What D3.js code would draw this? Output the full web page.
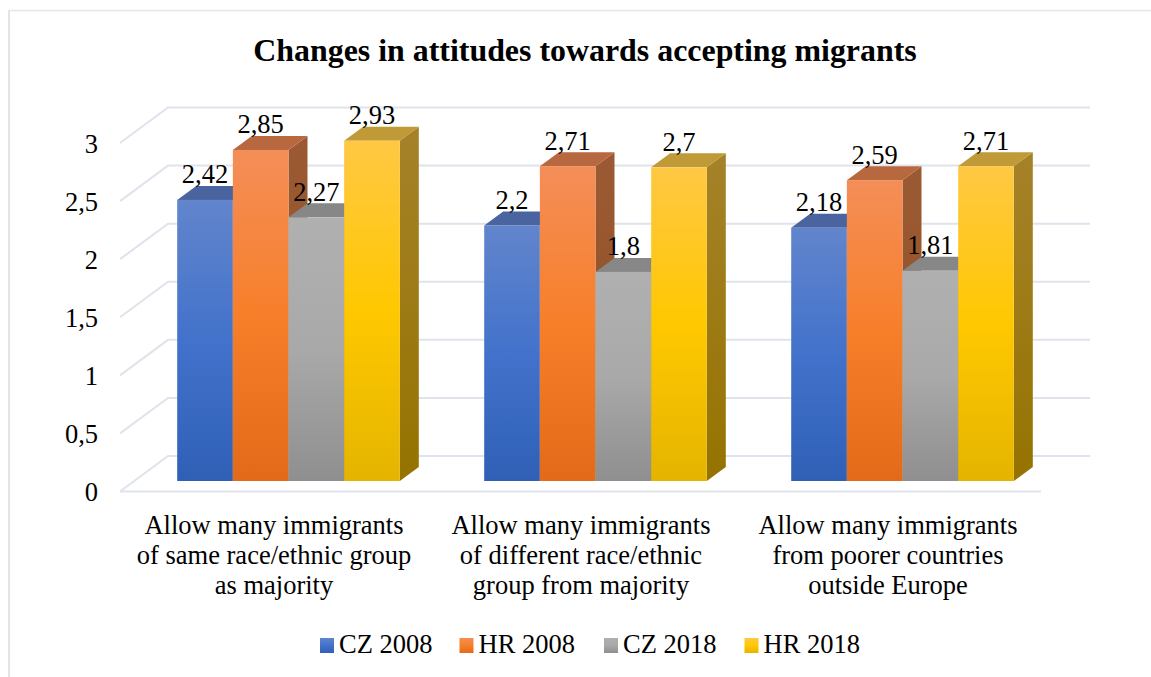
<!DOCTYPE html>
<html>
<head>
<meta charset="utf-8">
<script src="https://cdn.jsdelivr.net/npm/d3@7"></script>
<style>
  html, body { margin: 0; padding: 0; background: #fff; }
  svg { display: block; font-family: "Liberation Serif", serif; }
</style>
</head>
<body>
<svg id="chart" width="1151" height="677"></svg>
<script>
var categories = [
  ['Allow many immigrants', 'of same race/ethnic group', 'as majority'],
  ['Allow many immigrants', 'of different race/ethnic', 'group from majority'],
  ['Allow many immigrants', 'from poorer countries', 'outside Europe']
]
var seriesNames = ['CZ 2008', 'HR 2008', 'CZ 2018', 'HR 2018']
var cz2008 = [2.42, 2.2, 2.18]
var hr2008 = [2.85, 2.71, 2.59]
var cz2018 = [2.27, 1.8, 1.81]
var hr2018 = [2.93, 2.7, 2.71]
var seriesValues = [cz2008, hr2008, cz2018, hr2018]
var yTicks = [0, 0.5, 1, 1.5, 2, 2.5, 3]

// front stops top/mid/bottom, then top face and side colours
var colors = [
  { stops: ['#6285cc', '#4272cb', '#2f60b6'], top: '#4a649f', side: ['#4a649f', '#2c4a86'] },
  { stops: ['#f48e58', '#f77f2a', '#e36a18'], top: '#b7683f', side: ['#9c5a34', '#8c4f1e'] },
  { stops: ['#b0b0b0', '#a9a9a9', '#8f8f8f'], top: '#878787', side: ['#7f7f7f', '#666666'] },
  { stops: ['#ffc844', '#ffc800', '#e4b400'], top: '#bf9a37', side: ['#a58229', '#957300'] }
]
var gridColor = '#dfe3ec'

var svg = d3.select('#chart')
var fmt = function (v) { return String(v).replace('.', ',') }

// chart frame
svg.append('path')
  .attr('d', 'M9,677V10.5')
  .attr('stroke', '#e0e5ea')
  .attr('stroke-width', 2)
svg.append('path')
  .attr('d', 'M8,10.5H1151')
  .attr('stroke', '#e3e5ef')
  .attr('stroke-width', 1.5)

svg.append('text')
  .attr('x', 585)
  .attr('y', 61)
  .attr('text-anchor', 'middle')
  .style('font-size', '31.9px')
  .style('font-weight', 'bold')
  .text('Changes in attitudes towards accepting migrants')

var wallDx = 48
var wallDy = -35.5
var barDx = 19
var barDy = -14
var barShift = 14.2
var barLift = -10.5

var y = d3.scaleLinear().domain([0, 3]).range([491.5, 143])
var x0 = d3.scaleBand().domain(d3.range(categories.length)).range([120, 1041])
var x1 = d3.scaleBand().domain(d3.range(seriesNames.length)).range([43, 265.6])

var defs = svg.append('defs')
colors.forEach(function (c, i) {
  var g = defs.append('linearGradient')
    .attr('id', 'front' + i).attr('x1', 0).attr('y1', 0).attr('x2', 0).attr('y2', 1)
  c.stops.forEach(function (s, j) {
    g.append('stop').attr('offset', j / 2).attr('stop-color', s)
  })
  var h = defs.append('linearGradient')
    .attr('id', 'side' + i).attr('x1', 0).attr('y1', 0).attr('x2', 0).attr('y2', 1)
  c.side.forEach(function (s, j) {
    h.append('stop').attr('offset', j).attr('stop-color', s)
  })
})

// walls
var grid = svg.append('g')
  .attr('fill', 'none')
  .attr('stroke', gridColor)
  .attr('stroke-width', 2)
yTicks.forEach(function (t) {
  var right = x0.range()[1] + wallDx + 1
  grid.append('path')
    .attr('d', 'M120,' + y(t) + 'L' + (120 + wallDx) + ',' + (y(t) + wallDy) + 'H' + right)
})
grid.append('line')
  .attr('x1', 120).attr('x2', 1041)
  .attr('y1', y(0)).attr('y2', y(0))

// bars
var bars = []
categories.forEach(function (cat, c) {
  seriesNames.forEach(function (name, s) {
    bars.push({ c: c, s: s, value: seriesValues[s][c] })
  })
})
var barX = function (d) { return x0(d.c) + x1(d.s) + barShift }
var barY = function (d) { return y(d.value) + barLift }
var w = x1.bandwidth()
var base = y(0) + barLift

var bar = svg.append('g').selectAll('g')
  .data(bars)
  .enter().append('g')

bar.append('path')
  .attr('fill', function (d) { return 'url(#side' + d.s + ')' })
  .attr('d', function (d) {
    var r = barX(d) + w
    return 'M' + r + ',' + barY(d) + 'L' + (r + barDx) + ',' + (barY(d) + barDy) +
      'V' + (base + barDy) + 'L' + r + ',' + base + 'Z'
  })
bar.append('path')
  .attr('fill', function (d) { return colors[d.s].top })
  .attr('d', function (d) {
    return 'M' + barX(d) + ',' + barY(d) + 'L' + (barX(d) + barDx) + ',' + (barY(d) + barDy) +
      'H' + (barX(d) + w + barDx) + 'L' + (barX(d) + w) + ',' + barY(d) + 'Z'
  })
bar.append('rect')
  .attr('x', barX)
  .attr('y', barY)
  .attr('width', w)
  .attr('height', function (d) { return base - barY(d) })
  .attr('fill', function (d) { return 'url(#front' + d.s + ')' })

// data labels
svg.append('g').selectAll('text')
  .data(bars)
  .enter().append('text')
  .attr('x', function (d) { return barX(d) + w / 2 })
  .attr('y', function (d) { return barY(d) - 16.5 })
  .attr('text-anchor', 'middle')
  .style('font-size', '26.5px')
  .text(function (d) { return fmt(d.value) })

// y axis
var axis = svg.append('g')
  .attr('transform', 'translate(98,1)')
  .call(d3.axisLeft(y).tickValues(yTicks).tickSize(0).tickPadding(0).tickFormat(fmt))
axis.select('.domain').remove()
axis.selectAll('text')
  .attr('fill', '#000')
  .style('font-family', '"Liberation Serif", serif')
  .style('font-size', '26.5px')

// category labels
var cat = svg.append('g').selectAll('text')
  .data(categories)
  .enter().append('text')
  .attr('text-anchor', 'middle')
  .style('font-size', '26.5px')
cat.each(function (lines, i) {
  d3.select(this).selectAll('tspan')
    .data(lines)
    .enter().append('tspan')
    .attr('x', x0(i) + x0.bandwidth() / 2 + 0.5)
    .attr('y', function (d, j) { return 533.5 + j * 30 })
    .text(function (d) { return d })
})

// legend
var legendX = d3.scaleOrdinal().domain(seriesNames).range([320, 459.5, 604, 744.5])
var legend = svg.append('g').selectAll('g')
  .data(seriesNames)
  .enter().append('g')
  .attr('transform', function (d) { return 'translate(' + legendX(d) + ',638)' })
legend.append('rect')
  .attr('width', 14)
  .attr('height', 15)
  .attr('fill', function (d, i) { return 'url(#front' + i + ')' })
legend.append('text')
  .attr('x', 19)
  .attr('y', 15)
  .style('font-size', '26.5px')
  .text(function (d) { return d })
</script>
</body>
</html>
